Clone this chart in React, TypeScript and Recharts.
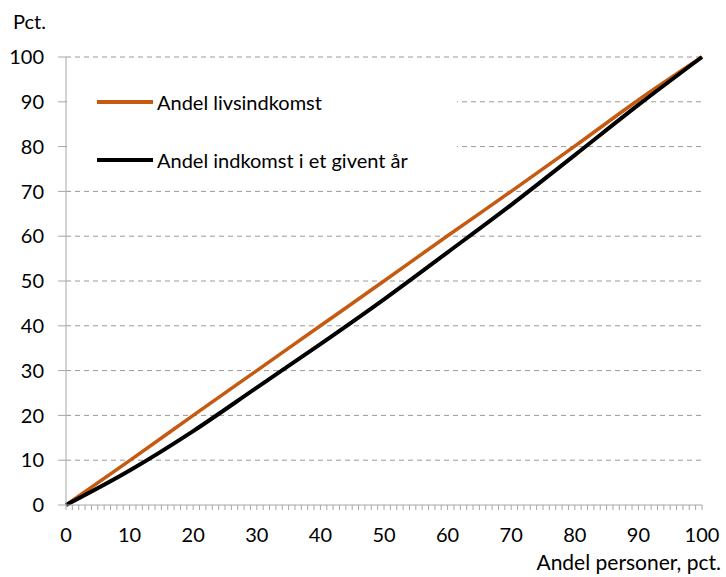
import React from 'react';
import { LineChart, Line, XAxis, YAxis, CartesianGrid, Legend } from 'recharts';

// Andel personer (x), pct.
const shares = [0, 10, 20, 30, 40, 50, 60, 70, 80, 90, 100];
// Andel livsindkomst, pct.
const lifetimeIncome = [0, 9.9, 20.0, 30.0, 40.0, 50.0, 60.1, 70.0, 80.1, 90.4, 100];
// Andel indkomst i et givent år, pct.
const annualIncome = [0, 7.7, 16.5, 26.2, 35.9, 45.9, 56.4, 67.0, 78.1, 89.3, 100];

const xTicks = Array.from({ length: 101 }, (_, i) => i);
const yTicks = [0, 10, 20, 30, 40, 50, 60, 70, 80, 90, 100];

const LIFE_COLOR = '#C55A11';
const YEAR_COLOR = '#000000';
const FONT = 'Lato, "Open Sans", sans-serif';

const chartData = shares.map((x, i) => ({
  x,
  life: lifetimeIncome[i],
  year: annualIncome[i],
}));

const legendItems = [
  { name: 'Andel livsindkomst', color: LIFE_COLOR },
  { name: 'Andel indkomst i et givent år', color: YEAR_COLOR },
];

function LegendBox() {
  return (
    <div style={{ paddingTop: 3, paddingLeft: 30 }}>
      {legendItems.map((item) => (
        <div key={item.name} style={{ display: 'flex', alignItems: 'center', height: 58 }}>
          <div style={{ width: 56, height: 4, background: item.color, marginRight: 4 }} />
          <span style={{ fontSize: 20, color: '#000', fontFamily: FONT }}>{item.name}</span>
        </div>
      ))}
    </div>
  );
}

export default function App() {
  return (
    <div style={{ position: 'absolute', left: 0, top: 0, width: 726, height: 577, background: '#fff', fontFamily: FONT }}>
      <div style={{ position: 'absolute', left: 13, top: 9, fontSize: 20, color: '#000' }}>Pct.</div>
      <div style={{ position: 'absolute', right: 5, top: 549, fontSize: 21, color: '#000' }}>
        Andel personer, pct.
      </div>
      <LineChart
        width={726}
        height={577}
        data={chartData}
        margin={{ top: 57, right: 24, bottom: 42, left: 0 }}
      >
        <CartesianGrid
          vertical={false}
          horizontalValues={yTicks.slice(1)}
          stroke="#9a9a9a"
          strokeDasharray="5 4"
        />
        <XAxis
          dataKey="x"
          type="number"
          domain={[0, 100]}
          ticks={xTicks}
          interval={0}
          height={30}
          tickFormatter={(v) => (v % 10 === 0 ? String(v) : '')}
          tickSize={5}
          tickMargin={18}
          tick={{ fontSize: 20, fill: '#000', fontFamily: FONT }}
          axisLine={{ stroke: '#a6a6a6' }}
          tickLine={{ stroke: '#a6a6a6' }}
        />
        <YAxis
          type="number"
          domain={[0, 100]}
          ticks={yTicks}
          interval={0}
          width={66}
          tickSize={8}
          tickMargin={14}
          tick={{ fontSize: 20, fill: '#000', fontFamily: FONT }}
          axisLine={{ stroke: '#a6a6a6' }}
          tickLine={{ stroke: '#a6a6a6' }}
        />
        <Legend
          layout="vertical"
          align="center"
          verticalAlign="middle"
          content={() => <LegendBox />}
          wrapperStyle={{ left: 67, top: 70, width: 390, height: 118, backgroundColor: '#fff' }}
        />
        <Line
          type="monotone"
          dataKey="life"
          name="Andel livsindkomst"
          stroke={LIFE_COLOR}
          strokeWidth={3.5}
          dot={false}
          isAnimationActive={false}
        />
        <Line
          type="monotone"
          dataKey="year"
          name="Andel indkomst i et givent år"
          stroke={YEAR_COLOR}
          strokeWidth={4}
          dot={false}
          isAnimationActive={false}
        />
      </LineChart>
    </div>
  );
}
